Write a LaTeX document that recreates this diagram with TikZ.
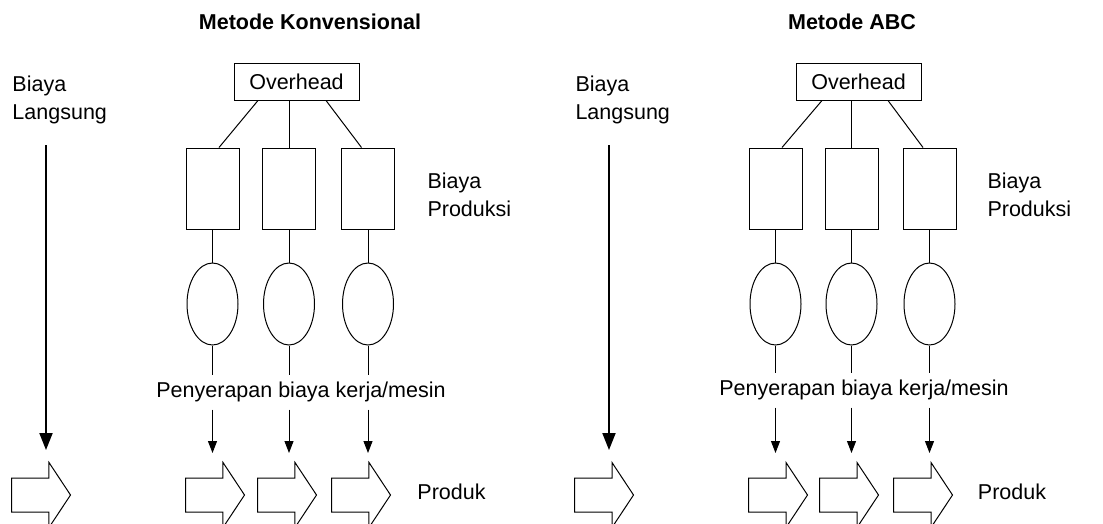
\documentclass[tikz,border=0pt]{standalone}
\usepackage{fontspec}
\setmainfont{Liberation Sans}
\usetikzlibrary{arrows.meta,shapes.geometric,shapes.arrows}

\begin{document}
\begin{tikzpicture}[x=1pt, y=-1pt, line width=1pt,
    every node/.style={font=\fontsize{21.5}{28}\selectfont, inner sep=0pt},
    ohbox/.style={draw, minimum width=125pt, minimum height=37pt},
    costbox/.style={draw, minimum width=53pt, minimum height=81pt},
    oval/.style={draw, ellipse, minimum width=51pt, minimum height=82pt},
    blok/.style={draw, single arrow, anchor=west, minimum height=59pt, inner xsep=0pt, inner ysep=16.5pt,
      single arrow head extend=15.5pt, single arrow tip angle=113},
    tiparrow/.style={-{Triangle[length=12pt,width=9pt]}},
    directarrow/.style={line width=2pt, -{Triangle[length=17pt,width=13pt]}}]
    \useasboundingbox (0,0) rectangle (1103,523);
    \coordinate (tip) at (0,453);

    \node[font=\fontsize{21.5}{28}\selectfont\bfseries] (titleK) at (310,22) {Metode Konvensional};
    \node[align=left, anchor=north west] (langK) at (12,75) {Biaya\\Langsung};
    \node[align=left, anchor=north west] (prodK) at (427,172) {Biaya\\Produksi};
    \node[ohbox] (ohK) at (296.5,81.5) {Overhead};
    \node[costbox] (rK1) at (212.5,188.5) {};
    \node[costbox] (rK2) at (289,188.5) {};
    \node[costbox] (rK3) at (368,188.5) {};
    \node[oval] (eK1) at (212.5,304) {};
    \node[oval] (eK2) at (289,304) {};
    \node[oval] (eK3) at (368,304) {};
    \node[minimum height=34pt] (lblK) at (301,392) {Penyerapan biaya kerja/mesin};
    \node[blok] (bK0) at (11,495) {};
    \node[blok] (bK1) at (185,495) {};
    \node[blok] (bK2) at (257,495) {};
    \node[blok] (bK3) at (331,495) {};
    \node (pK) at (451.5,492) {Produk};
    \coordinate (dK1) at (46,145);
    \coordinate (dK2) at (46,450);

    \draw ([xshift=-38.5pt]ohK.south) -- ([xshift=6.5pt]rK1.north);
    \draw (rK2.north |- ohK.south) -- (rK2.north);
    \draw ([xshift=29.5pt]ohK.south) -- ([xshift=-6.5pt]rK3.north);
    \draw (rK1) -- (eK1);
    \draw (rK2) -- (eK2);
    \draw (rK3) -- (eK3);
    \draw (eK1.south) -- (eK1.south |- lblK.north);
    \draw (eK2.south) -- (eK2.south |- lblK.north);
    \draw (eK3.south) -- (eK3.south |- lblK.north);
    \draw[tiparrow] (lblK.south -| eK1.south) -- (eK1.south |- tip);
    \draw[tiparrow] (lblK.south -| eK2.south) -- (eK2.south |- tip);
    \draw[tiparrow] (lblK.south -| eK3.south) -- (eK3.south |- tip);
    \draw[directarrow] (dK1) -- (dK2);

    \node[font=\fontsize{21.5}{28}\selectfont\bfseries] (titleA) at (852,22) {Metode ABC};
    \node[align=left, anchor=north west] (langA) at (575,75) {Biaya\\Langsung};
    \node[align=left, anchor=north west] (prodA) at (987,172) {Biaya\\Produksi};
    \node[ohbox] (ohA) at (858.5,81.5) {Overhead};
    \node[costbox] (rA1) at (775.5,188.5) {};
    \node[costbox] (rA2) at (851.5,188.5) {};
    \node[costbox] (rA3) at (929.5,188.5) {};
    \node[oval] (eA1) at (775.5,304) {};
    \node[oval] (eA2) at (851.5,304) {};
    \node[oval] (eA3) at (929.5,304) {};
    \node[minimum height=34pt] (lblA) at (864,390) {Penyerapan biaya kerja/mesin};
    \node[blok] (bA0) at (574,495) {};
    \node[blok] (bA1) at (748,495) {};
    \node[blok] (bA2) at (819,495) {};
    \node[blok] (bA3) at (893,495) {};
    \node (pA) at (1012,492) {Produk};
    \coordinate (dA1) at (609,145);
    \coordinate (dA2) at (609,450);

    \draw ([xshift=-36.5pt]ohA.south) -- ([xshift=6.5pt]rA1.north);
    \draw (rA2.north |- ohA.south) -- (rA2.north);
    \draw ([xshift=29.5pt]ohA.south) -- ([xshift=-6.5pt]rA3.north);
    \draw (rA1) -- (eA1);
    \draw (rA2) -- (eA2);
    \draw (rA3) -- (eA3);
    \draw (eA1.south) -- (eA1.south |- lblA.north);
    \draw (eA2.south) -- (eA2.south |- lblA.north);
    \draw (eA3.south) -- (eA3.south |- lblA.north);
    \draw[tiparrow] (lblA.south -| eA1.south) -- (eA1.south |- tip);
    \draw[tiparrow] (lblA.south -| eA2.south) -- (eA2.south |- tip);
    \draw[tiparrow] (lblA.south -| eA3.south) -- (eA3.south |- tip);
    \draw[directarrow] (dA1) -- (dA2);
\end{tikzpicture}
\end{document}
